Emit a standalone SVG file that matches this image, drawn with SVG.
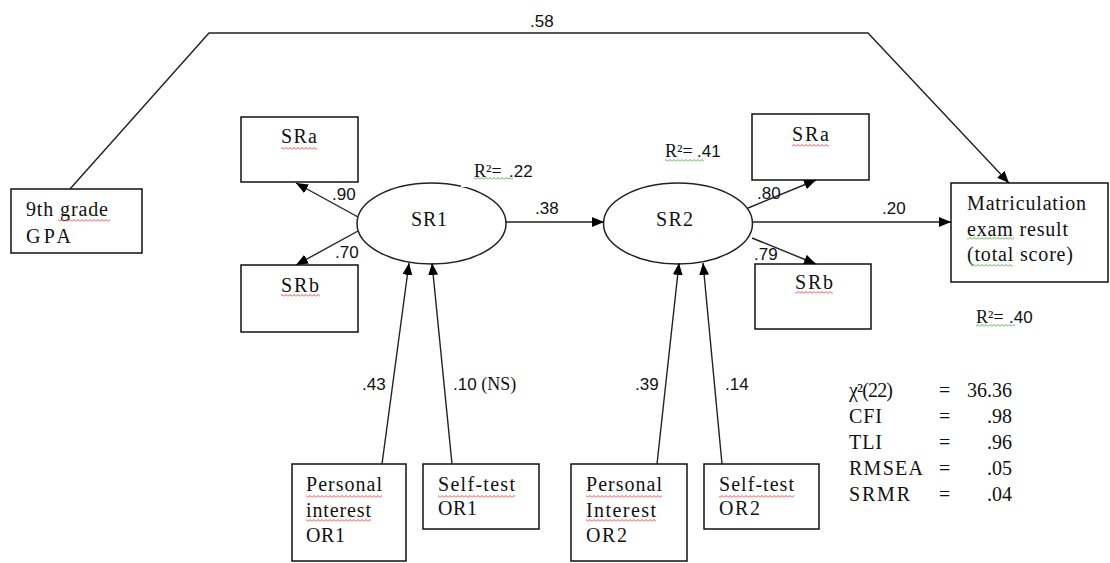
<svg xmlns="http://www.w3.org/2000/svg" width="1110" height="563" viewBox="0 0 1110 563">
<style>
.box{fill:#fff;stroke:#111;stroke-width:1.5}
.ell{fill:#fff;stroke:#222;stroke-width:1.5}
.c{fill:none;stroke:#222;stroke-width:1.4;marker-end:url(#ah)}
.t{font-family:"Liberation Serif","Times New Roman",serif;font-size:20px;fill:#111}
.n{font-family:"Liberation Sans",Arial,sans-serif;font-size:17px;fill:#111}
.sq-r{fill:url(#wr)}
.sq-g{fill:url(#wg)}
</style>
<defs>
<marker id="ah" viewBox="0 0 12 10" refX="12" refY="5" markerWidth="12" markerHeight="10" markerUnits="userSpaceOnUse" orient="auto"><path d="M0,0 L12,5 L0,10 z" fill="#000"/></marker>
<pattern id="wr" width="4" height="3" patternUnits="userSpaceOnUse"><path d="M0,2.5 L2,0.5 L4,2.5" fill="none" stroke="#e83030" stroke-width="0.9"/></pattern>
<pattern id="wg" width="4" height="3" patternUnits="userSpaceOnUse"><path d="M0,2.5 L2,0.5 L4,2.5" fill="none" stroke="#3aa83a" stroke-width="0.9"/></pattern>
</defs>
<rect width="1110" height="563" fill="#fff"/>

<g id="gpa">
<rect class="box" x="11" y="189" width="131" height="64"/>
<text class="t" x="26" y="216" textLength="82">9th grade</text>
<text class="t" x="26" y="243" textLength="45">GPA</text>
<rect class="sq-r" x="58" y="219" width="52" height="3"/>
</g>

<g id="sra1">
<rect class="box" x="241" y="117" width="117" height="65"/>
<text class="t" x="281" y="143" textLength="36">SRa</text>
<rect class="sq-r" x="281" y="147" width="36" height="3"/>
</g>
<g id="srb1">
<rect class="box" x="241" y="265" width="117" height="67"/>
<text class="t" x="281" y="292" textLength="38">SRb</text>
<rect class="sq-r" x="281" y="294" width="39" height="3"/>
</g>

<g id="sr1">
<ellipse class="ell" cx="431.5" cy="223.5" rx="74.5" ry="40.5"/>
<rect x="461" y="181" width="7" height="6" fill="#fff"/>
<text class="t" x="411" y="226" textLength="36">SR1</text>
</g>

<g id="sr2">
<ellipse class="ell" cx="678" cy="223.5" rx="74.5" ry="40.5"/>
<text class="t" x="656" y="226" textLength="37">SR2</text>
</g>

<g id="sra2">
<rect class="box" x="752" y="114" width="117" height="66"/>
<text class="t" x="792" y="141" textLength="37">SRa</text>
<rect class="sq-r" x="792" y="144" width="37" height="3"/>
</g>
<g id="srb2">
<rect class="box" x="755" y="264" width="116" height="65"/>
<text class="t" x="795" y="289" textLength="38">SRb</text>
<rect class="sq-r" x="795" y="291" width="38" height="3"/>
</g>

<g id="matric">
<rect class="box" x="951" y="183" width="157" height="99"/>
<text class="t" x="967" y="210" textLength="119">Matriculation</text>
<text class="t" x="967" y="236" textLength="101">exam result</text>
<text class="t" x="967" y="261" textLength="106">(total score)</text>
<rect class="sq-g" x="967" y="237" width="47" height="3"/>
<rect class="sq-g" x="971" y="264" width="42" height="3"/>
</g>

<g id="pi1">
<rect class="box" x="292" y="464" width="114" height="97"/>
<text class="t" x="306" y="491" textLength="76">Personal</text>
<text class="t" x="306" y="517" textLength="65">interest</text>
<text class="t" x="306" y="542" textLength="39">OR1</text>
<rect class="sq-r" x="306" y="495" width="76" height="3"/>
<rect class="sq-r" x="306" y="519" width="65" height="3"/>
</g>
<g id="st1">
<rect class="box" x="423" y="464" width="116" height="65"/>
<text class="t" x="438" y="491" textLength="77">Self-test</text>
<text class="t" x="438" y="515" textLength="39">OR1</text>
<rect class="sq-r" x="438" y="495" width="77" height="3"/>
</g>
<g id="pi2">
<rect class="box" x="571" y="464" width="116" height="97"/>
<text class="t" x="586" y="491" textLength="76">Personal</text>
<text class="t" x="586" y="517" textLength="70">Interest</text>
<text class="t" x="586" y="542" textLength="41">OR2</text>
<rect class="sq-r" x="586" y="495" width="76" height="3"/>
<rect class="sq-r" x="586" y="519" width="70" height="3"/>
</g>
<g id="st2">
<rect class="box" x="704" y="464" width="115" height="65"/>
<text class="t" x="719" y="491" textLength="75">Self-test</text>
<text class="t" x="719" y="515" textLength="41">OR2</text>
<rect class="sq-r" x="719" y="495" width="75" height="3"/>
</g>

<g id="connectors">
<polyline class="c" points="70,189 209,33 868,33 1009,183"/>
<line class="c" x1="358" y1="217" x2="296" y2="183"/>
<line class="c" x1="358" y1="231" x2="296" y2="265"/>
<line class="c" x1="506" y1="222" x2="604" y2="222"/>
<line class="c" x1="748" y1="208" x2="816" y2="180"/>
<line class="c" x1="752" y1="238" x2="816" y2="264"/>
<line class="c" x1="753" y1="222" x2="951" y2="222"/>
<line class="c" x1="382" y1="464" x2="409" y2="263"/>
<line class="c" x1="452" y1="464" x2="432" y2="263"/>
<line class="c" x1="657" y1="464" x2="679" y2="263"/>
<line class="c" x1="722" y1="464" x2="703" y2="263"/>
</g>

<g id="labels">
<text class="n" x="530" y="27">.58</text>
<text class="n" x="332" y="200">.90</text>
<text class="n" x="335" y="258">.70</text>
<text class="n" x="535" y="214">.38</text>
<text class="n" x="757" y="199">.80</text>
<text class="n" x="754" y="260">.79</text>
<text class="n" x="882" y="214">.20</text>
<text class="n" x="362" y="390">.43</text>
<text class="n" x="453" y="390">.10 <tspan class="t" style="font-size:18px">(NS)</tspan></text>
<text class="n" x="635" y="390">.39</text>
<text class="n" x="725" y="390">.14</text>
<text class="t" x="474" y="177" style="font-size:18px">R²=</text><text class="n" x="509" y="177">.22</text>
<rect class="sq-g" x="474" y="177" width="39" height="3"/>
<text class="t" x="665" y="157" style="font-size:18px">R²=</text><text class="n" x="697" y="157">.41</text>
<rect class="sq-g" x="665" y="159" width="39" height="3"/>
<text class="t" x="976" y="323" style="font-size:18px">R²=</text><text class="n" x="1009" y="323">.40</text>
<rect class="sq-g" x="976" y="324" width="39" height="3"/>
</g>

<g id="fit">
<text class="t" x="849" y="397" textLength="44">χ²(22)</text>
<text class="t" x="849" y="423" textLength="33">CFI</text>
<text class="t" x="849" y="449" textLength="33">TLI</text>
<text class="t" x="849" y="475" textLength="74">RMSEA</text>
<text class="t" x="849" y="501" textLength="61">SRMR</text>
<text class="t" x="939" y="397">=</text>
<text class="t" x="939" y="423">=</text>
<text class="t" x="939" y="449">=</text>
<text class="t" x="939" y="475">=</text>
<text class="t" x="939" y="501">=</text>
<text class="t" x="1012" y="397" text-anchor="end">36.36</text>
<text class="t" x="1012" y="423" text-anchor="end">.98</text>
<text class="t" x="1012" y="449" text-anchor="end">.96</text>
<text class="t" x="1012" y="475" text-anchor="end">.05</text>
<text class="t" x="1012" y="501" text-anchor="end">.04</text>
</g>
</svg>
